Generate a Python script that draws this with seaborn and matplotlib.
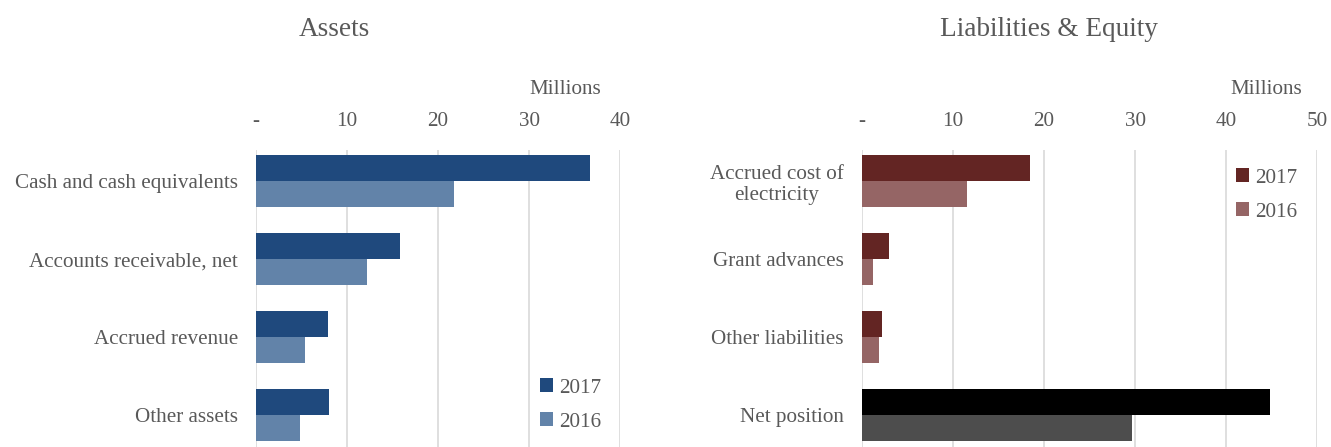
import matplotlib
matplotlib.use("Agg")
import matplotlib.pyplot as plt
import seaborn as sns
import pandas as pd

# Balance sheet components, in millions
asset_categories = ["Cash and cash equivalents", "Accounts receivable, net",
                    "Accrued revenue", "Other assets"]
assets_2017 = [36.7, 15.8, 7.9, 8.0]
assets_2016 = [21.8, 12.2, 5.4, 4.8]

liab_categories = ["Accrued cost of\nelectricity", "Grant advances",
                   "Other liabilities", "Net position"]
liab_2017 = [18.5, 3.0, 2.2, 44.8]
liab_2016 = [11.5, 1.2, 1.9, 29.7]

years = ["2017", "2016"]
asset_ticks = [0, 10, 20, 30, 40]
liab_ticks = [0, 10, 20, 30, 40, 50]

sns.set_style("white")
plt.rcParams["font.family"] = ["Liberation Serif", "DejaVu Serif"]
TEXT = "#595959"
GRID = "#d9d9d9"


def long_frame(cats, v17, v16):
    rows = []
    for c, a, b in zip(cats, v17, v16):
        rows.append({"category": c, "year": "2017", "value": a})
        rows.append({"category": c, "year": "2016", "value": b})
    return pd.DataFrame(rows)


fig = plt.figure(figsize=(13.31, 4.47), dpi=100)
W, H = 1331, 447
ax_l = fig.add_axes([256 / W, 0, (620 - 256) / W, (447 - 150) / H])
ax_r = fig.add_axes([862 / W, 0, (1317 - 862) / W, (447 - 150) / H])


def draw(ax, cats, v17, v16, colors, ticks, title, title_x, millions_x,
         legend_anchor):
    df = long_frame(cats, v17, v16)
    sns.barplot(data=df, y="category", x="value", hue="year", order=cats,
                hue_order=years, palette=colors, saturation=1, width=0.667,
                orient="h", ax=ax, legend=False, linewidth=0)
    ax.set_ylim(3.41, -0.40)
    ax.set_xlim(ticks[0], ticks[-1])
    ax.xaxis.tick_top()
    ax.set_xticks(ticks)
    ax.set_xticklabels(["-" if t == 0 else str(t) for t in ticks])
    ax.tick_params(axis="x", length=0, pad=14, labelsize=15.2, labelcolor=TEXT)
    ax.tick_params(axis="y", length=0, pad=13, labelsize=15.2, labelcolor=TEXT)
    for lab in ax.get_yticklabels():
        lab.set_multialignment("center")
    ax.set_xlabel("")
    ax.set_ylabel("")
    ax.grid(axis="x", color=GRID, linewidth=1.2)
    ax.set_axisbelow(True)
    for s in ax.spines.values():
        s.set_visible(False)
    fig.text(millions_x / W, 1 - 89 / H, "Millions", ha="right", va="center",
             fontsize=15.2, color=TEXT)
    fig.text(title_x / W, 1 - 29 / H, title, ha="center", va="center",
             fontsize=19.6, color=TEXT)
    handles = [ax.containers[0], ax.containers[1]]
    ax.legend(handles, years, loc="center", bbox_to_anchor=legend_anchor,
              bbox_transform=fig.transFigure, frameon=False, fontsize=15.2,
              labelcolor=TEXT, handlelength=0.6, handleheight=0.6,
              handletextpad=0.3, labelspacing=0.7)
    return ax


draw(ax_l, asset_categories, assets_2017, assets_2016,
     ["#1f497d", "#6283a9"], asset_ticks, "Assets", 334, 601,
     (571 / W, 1 - 405 / H))
draw(ax_r, liab_categories, liab_2017, liab_2016,
     ["#632523", "#956565"], liab_ticks, "Liabilities & Equity", 1049, 1302,
     (1267 / W, 1 - 195 / H))

# Net position is shown in black / dark grey
ax_r.containers[0].patches[3].set_facecolor("#000000")
ax_r.containers[1].patches[3].set_facecolor("#4d4d4d")

fig.savefig("out.png", dpi=100)
